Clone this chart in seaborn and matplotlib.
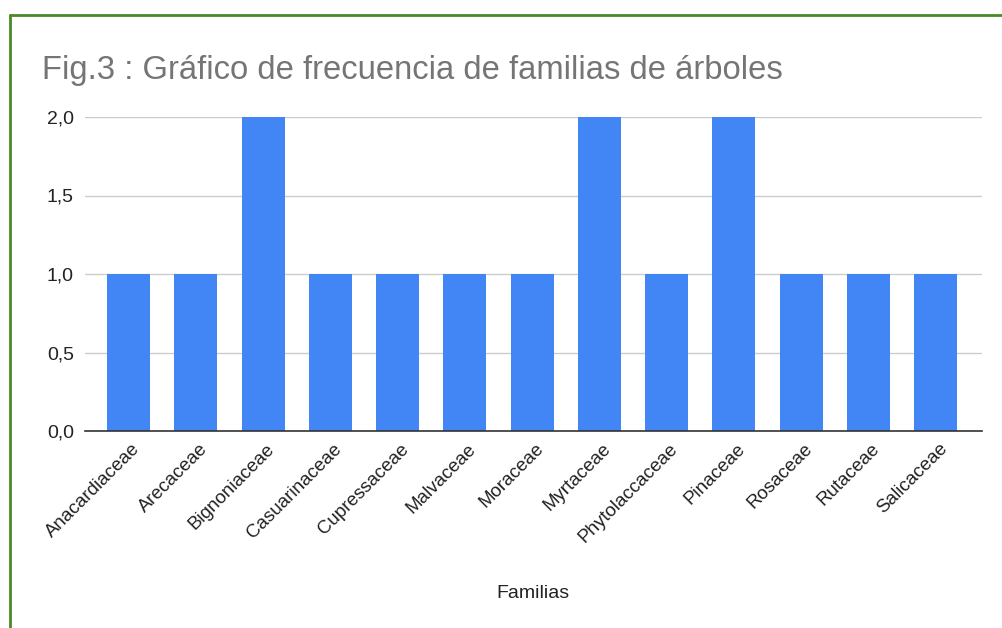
import matplotlib
matplotlib.use("Agg")
import matplotlib.pyplot as plt
import matplotlib.transforms as mtransforms
from matplotlib.lines import Line2D
from matplotlib.ticker import FuncFormatter
import seaborn as sns
import pandas as pd

familias = ["Anacardiaceae", "Arecaceae", "Bignoniaceae", "Casuarinaceae", "Cupressaceae",
            "Malvaceae", "Moraceae", "Myrtaceae", "Phytolaccaceae", "Pinaceae",
            "Rosaceae", "Rutaceae", "Salicaceae"]
frecuencia = [1, 1, 2, 1, 1, 1, 1, 2, 1, 2, 1, 1, 1]
yticks = [0.0, 0.5, 1.0, 1.5, 2.0]

sns.set_theme(style="white")
plt.rcParams['font.family'] = ['Liberation Sans', 'DejaVu Sans']

df = pd.DataFrame({"Familias": familias, "Frecuencia": frecuencia})

fig = plt.figure(figsize=(10.03, 6.28), dpi=100)
ax = fig.add_axes([85/1003, 1 - 431/628, (982-85)/1003, (431-117)/628])

sns.barplot(data=df, x="Familias", y="Frecuencia", color="#4285F4", width=0.64,
            saturation=1, ax=ax, edgecolor="none")

ax.set_ylim(0, 2.0)
ax.set_xlim(-0.647, len(familias) - 1 + 0.69)
ax.set_yticks(yticks)
ax.yaxis.set_major_formatter(FuncFormatter(lambda v, p: f"{v:.1f}".replace(".", ",")))
ax.grid(axis="y", color="#cccccc", linewidth=1)
ax.set_axisbelow(True)
for s in ["top", "right", "left"]:
    ax.spines[s].set_visible(False)
ax.spines["bottom"].set_color("#333333")
ax.spines["bottom"].set_linewidth(1.2)
ax.tick_params(axis="y", length=0, labelsize=14, colors="#222222", pad=8)
ax.tick_params(axis="x", length=0, labelsize=13.5, colors="#222222", pad=6)
offset = mtransforms.ScaledTranslation(3/100, -1/100, fig.dpi_scale_trans)
for lab in ax.get_xticklabels():
    lab.set_rotation(45)
    lab.set_ha("right")
    lab.set_rotation_mode("anchor")
    lab.set_transform(lab.get_transform() + offset)
ax.set_xlabel("Familias", fontsize=14, color="#222222")
ax.xaxis.set_label_coords((533-85)/(982-85), -(585-431)/(431-117))
ax.set_ylabel("")

fig.text(42/1003, 1 - 70/628, "Fig.3 : Gráfico de frecuencia de familias de árboles",
         fontsize=23.6, color="#757575", va="center", ha="left")

green = "#4a8a2a"
fig.add_artist(Line2D([10/1003, 1.0], [1 - 15/628, 1 - 15/628], color=green, lw=2,
                      transform=fig.transFigure))
fig.add_artist(Line2D([10/1003, 10/1003], [1 - 15/628, 0.0], color=green, lw=2,
                      transform=fig.transFigure))

fig.savefig("out.png", dpi=100)
